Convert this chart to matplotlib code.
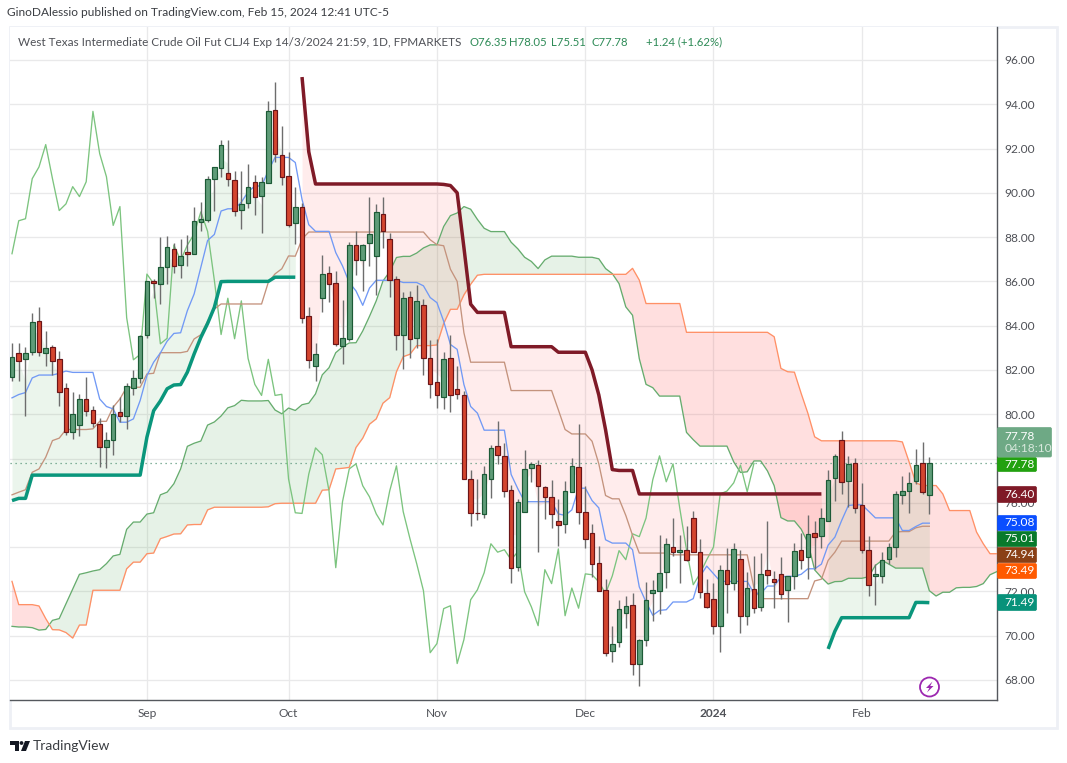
import numpy as np
import matplotlib
matplotlib.use("Agg")
import matplotlib.pyplot as plt
from matplotlib.patches import Rectangle, Circle, Polygon, FancyBboxPatch
from matplotlib.transforms import Affine2D

# ---- data (daily bars, index 0 = first visible bar) ----
opens = [81.67,82.77,82.48,82.8,84.2,82.75,83.04,82.5,81.19,79.2,79.5,80.7,80.2,79.56,78.5,78.84,80.1,79.9,81.2,81.62,
 83.58,86.04,85.9,86.66,87.47,86.75,87.33,87.25,88.7,88.78,90.64,91.12,90.91,90.6,89.24,89.55,90.5,89.87,90.46,93.72,
 91.73,90.77,88.62,89.38,84.42,82.19,85.27,86.37,85.92,83.09,83.41,87.64,86.95,87.72,87.13,89.05,87.91,86.1,83.6,85.28,
 83.46,84.92,82.53,81.44,80.76,82.53,81.12,80.85,77.08,75.55,75.5,77.07,78.57,78.12,76.59,73.1,75.6,77.58,77.7,76.72,
 76.27,75.19,75.05,76.5,77.62,75.6,74.65,73.3,72.07,69.32,69.73,71.0,71.4,68.74,69.82,71.94,72.03,72.89,74.0,73.78,
 73.88,75.33,73.79,71.94,71.67,70.45,72.98,72.38,73.47,70.9,72.1,71.3,72.98,72.57,72.8,72.07,72.7,73.88,73.56,74.65,
 74.5,75.2,77.13,78.84,76.99,77.8,75.9,73.87,72.7,72.7,73.47,74.0,76.35,76.53,77.0,77.8,76.35]
highs = [83.2,83.23,83.05,84.57,84.86,83.77,83.14,82.87,81.4,81.0,80.9,81.7,80.35,79.83,79.2,80.4,80.8,81.4,82.0,83.6,
 86.0,86.1,88.0,88.03,87.73,87.9,88.1,89.34,89.6,90.75,91.17,92.4,92.38,91.0,90.97,91.3,90.8,90.7,94.13,95.0,
 93.04,91.83,90.25,89.55,84.85,83.2,87.2,86.69,86.48,85.16,87.78,88.29,87.7,89.83,89.5,89.79,88.18,86.25,85.53,85.57,
 85.84,85.2,83.36,83.4,82.8,83.58,82.2,81.05,77.5,77.08,77.68,78.6,79.7,78.7,76.8,76.15,78.4,77.85,77.95,76.78,
 77.05,76.18,77.0,78.03,79.56,76.74,75.02,74.06,72.57,70.45,71.6,71.77,71.94,69.87,72.43,72.52,74.56,74.39,75.33,74.56,
 74.96,75.62,74.38,72.57,72.39,73.2,73.98,74.2,73.87,72.87,73.58,73.75,75.2,72.9,73.53,72.7,74.17,74.63,75.43,75.2,
 75.77,77.46,78.2,79.26,78.1,78.03,76.9,74.48,73.25,73.8,74.17,76.55,77.23,77.38,78.43,78.75,78.05]
lows = [81.5,81.49,79.9,82.66,82.62,82.2,81.75,80.35,79.04,78.9,79.0,79.94,79.44,77.6,77.56,78.14,79.64,79.34,80.86,81.4,
 83.44,85.25,85.0,85.9,86.37,86.14,86.7,87.25,88.27,88.7,89.18,90.7,90.3,88.95,88.38,89.3,89.0,88.18,90.46,91.4,
 90.35,88.47,87.7,84.14,82.1,81.5,84.63,85.09,83.08,82.28,83.3,86.3,85.57,86.7,85.39,87.53,85.3,82.9,82.05,82.55,
 83.0,81.76,80.74,80.29,80.24,80.1,80.67,77.08,74.93,75.23,75.32,76.2,77.76,76.28,72.38,72.92,75.6,76.92,73.77,75.26,
 74.87,74.03,74.63,76.5,75.05,73.95,72.65,72.03,69.07,68.83,69.5,70.33,68.2,67.73,69.53,70.65,70.99,72.17,73.6,72.4,
 73.37,73.79,71.7,71.24,70.09,69.26,71.0,72.05,70.12,70.5,71.0,71.12,72.35,71.24,71.67,70.62,72.12,72.99,72.57,72.99,
 73.94,75.17,76.06,76.4,75.83,75.53,73.73,71.77,71.37,72.36,73.25,73.55,75.95,75.55,76.85,76.4,75.51]
closes = [82.6,82.39,82.77,84.17,82.8,83.0,82.39,81.0,79.2,80.0,80.7,80.13,79.6,78.5,78.84,80.0,79.9,81.28,81.64,83.53,
 86.0,85.92,86.66,87.56,86.7,87.15,87.25,88.74,88.83,90.64,91.17,92.18,90.64,89.2,89.5,90.28,89.83,90.5,93.68,91.77,
 90.73,88.53,89.38,84.36,82.46,82.7,86.33,85.9,83.18,83.43,87.64,86.95,87.64,88.14,89.14,88.26,86.05,83.6,85.24,83.41,
 85.12,82.52,81.35,80.85,82.48,80.85,80.9,77.08,75.55,75.52,77.3,78.48,78.17,76.54,73.07,76.05,77.53,77.76,76.77,76.27,
 75.5,75.0,76.54,77.67,75.6,74.38,73.25,72.03,69.23,69.64,71.22,71.35,68.74,69.82,71.62,72.07,72.84,74.15,73.77,73.88,
 73.43,73.79,71.98,71.3,70.45,72.98,72.35,73.92,70.9,72.15,71.24,72.79,72.75,72.43,71.9,72.7,73.84,73.43,74.6,74.47,
 75.31,77.04,78.12,76.95,77.76,75.76,73.87,72.3,72.8,73.43,74.0,76.4,76.53,76.9,77.7,76.5,77.78]

conversion_line = [80.74,80.89,80.98,81.64,81.77,81.77,81.77,81.85,81.95,81.89,81.89,81.89,81.89,80.69,80.35,80.24,79.64,79.64,79.79,80.62,
 81.74,82.35,82.77,83.3,83.65,83.68,84.68,85.43,86.64,87.85,88.12,89.18,89.28,89.28,89.58,90.04,90.31,90.31,91.0,91.6,
 91.6,91.6,91.37,89.7,88.56,88.26,88.26,88.26,87.3,86.7,85.95,85.57,84.92,85.7,86.05,86.05,86.05,86.05,85.95,85.95,
 85.95,85.8,85.27,85.04,84.2,83.15,82.93,81.34,80.35,80.05,79.28,79.28,79.28,79.28,77.28,76.63,76.05,76.05,76.05,76.05,
 76.05,75.5,75.43,75.68,76.66,76.66,76.1,75.77,74.33,74.18,74.18,74.18,73.88,72.2,71.52,70.92,71.14,71.17,71.52,71.52,
 71.52,71.67,72.68,73.14,72.8,72.45,72.45,72.45,72.45,72.45,71.9,71.9,72.24,72.24,72.65,72.68,72.68,72.77,73.02,73.02,
 73.23,74.09,74.45,75.2,75.88,75.91,75.91,75.62,75.32,75.32,75.32,75.32,74.75,74.75,74.93,75.08,75.08]
base_line = [76.36,76.48,76.59,77.38,77.53,78.06,78.81,78.92,79.31,79.31,79.31,79.31,79.34,79.68,79.68,80.32,80.69,81.22,81.22,81.22,
 81.82,81.85,82.78,82.78,82.78,82.78,82.84,83.4,83.59,84.2,84.75,84.98,84.98,84.98,84.98,84.98,84.98,84.98,85.96,86.34,
 86.57,87.15,87.14,87.91,88.23,88.23,88.23,88.23,88.23,88.23,88.23,88.23,88.23,88.23,88.23,88.23,88.23,88.23,88.23,88.23,
 88.23,88.23,87.88,87.66,87.61,86.55,86.0,83.68,82.35,82.35,82.35,82.35,82.35,82.35,81.07,81.07,81.07,81.07,81.07,81.07,
 81.07,80.2,79.31,79.11,79.11,79.11,78.78,77.76,76.33,76.18,76.18,75.43,74.53,73.73,73.73,73.73,73.73,73.73,73.65,73.65,
 73.65,73.65,73.65,73.65,73.65,73.65,73.65,73.65,73.65,73.65,72.15,71.67,71.67,71.67,71.67,71.67,71.67,71.67,71.67,72.47,
 72.55,73.4,73.77,74.27,74.27,74.27,74.27,74.27,74.27,74.27,74.27,74.68,74.7,74.7,74.87,74.94,74.94]
lagging_span = [87.25,88.74,88.83,90.64,91.17,92.18,90.64,89.2,89.5,90.28,89.83,90.5,93.68,91.77,90.73,88.53,89.38,84.36,82.46,82.7,
 86.33,85.9,83.18,83.43,87.64,86.95,87.64,88.14,89.14,88.26,86.05,83.6,85.24,83.41,85.12,82.52,81.35,80.85,82.48,80.85,
 80.9,77.08,75.55,75.52,77.3,78.48,78.17,76.54,73.07,76.05,77.53,77.76,76.77,76.27,75.5,75.0,76.54,77.67,75.6,74.38,
 73.25,72.03,69.23,69.64,71.22,71.35,68.74,69.82,71.62,72.07,72.84,74.15,73.77,73.88,73.43,73.79,71.98,71.3,70.45,72.98,
 72.35,73.92,70.9,72.15,71.24,72.79,72.75,72.43,71.9,72.7,73.84,73.43,74.6,74.47,75.31,77.04,78.12,76.95,77.76,75.76,
 73.87,72.3,72.8,73.43,74.0,76.4,76.53,76.9,77.7,76.5,77.78]
leading_a = [70.42,70.39,70.39,70.36,70.25,70.28,70.69,70.77,71.44,72.12,72.77,72.84,72.92,72.98,73.25,73.6,73.67,74.8,75.13,75.13,
 75.49,75.55,76.36,76.48,76.86,77.53,78.55,78.69,78.79,79.51,79.65,79.92,80.29,80.39,80.63,80.6,80.6,80.6,80.62,80.19,
 80.02,80.28,80.17,80.43,80.5,80.92,81.78,82.1,82.78,83.04,83.22,83.23,83.76,84.42,85.12,86.02,86.44,87.08,87.13,87.13,
 87.28,87.51,87.65,87.65,88.48,88.97,89.09,89.38,89.26,88.8,88.4,88.25,88.25,88.25,87.77,87.47,87.09,86.9,86.58,86.97,
 87.14,87.14,87.14,87.14,87.09,87.09,87.09,87.02,86.58,86.35,85.9,84.85,84.47,82.51,81.35,81.2,80.82,80.82,80.82,80.82,
 79.18,78.85,78.56,78.56,78.56,78.56,78.56,77.85,77.37,77.4,77.89,77.89,77.44,76.77,75.33,75.18,75.18,74.81,74.2,72.97,
 72.63,72.33,72.44,72.45,72.59,72.59,72.59,72.66,73.17,73.4,73.23,73.05,73.05,73.05,73.05,73.05,72.03,71.79,71.96,71.96,
 72.16,72.18,72.18,72.22,72.35,72.75,72.89]
leading_b = [72.45,71.4,71.4,71.4,71.34,70.77,70.27,70.26,70.14,69.89,70.48,70.48,72.05,72.05,72.05,72.05,72.05,73.02,73.32,73.32,
 73.7,73.73,74.38,74.48,74.59,74.6,75.0,75.02,75.02,75.68,75.8,75.8,75.8,75.8,75.8,75.8,75.8,75.8,75.82,75.96,
 75.98,75.98,75.98,75.98,75.98,75.98,76.57,76.59,77.53,77.56,77.6,78.5,78.92,79.55,79.79,80.5,80.75,81.92,82.6,82.71,
 83.1,83.1,83.1,83.13,84.1,84.74,84.74,85.39,85.87,86.28,86.32,86.32,86.32,86.32,86.32,86.32,86.32,86.32,86.32,86.32,
 86.32,86.32,86.32,86.32,86.32,86.32,86.32,86.32,86.32,86.32,86.32,86.32,86.59,86.06,85.0,85.0,85.0,85.0,85.0,85.0,
 83.7,83.7,83.7,83.7,83.7,83.7,83.7,83.7,83.7,83.7,83.7,83.7,83.7,83.5,82.07,81.92,81.9,80.94,80.04,78.98,
 78.8,78.8,78.8,78.8,78.8,78.8,78.8,78.8,78.8,78.8,78.8,78.8,78.75,77.85,76.9,76.78,76.78,76.78,76.4,75.65,
 75.65,75.65,75.65,74.68,74.15,73.7,73.7]
stop_up_first = [76.1,76.2,76.2,77.25,77.25,77.25,77.25,77.25,77.25,77.25,77.25,77.25,77.25,77.25,77.25,77.25,77.25,77.25,77.25,77.25,
 78.96,80.16,80.6,81.15,81.32,81.34,81.9,82.72,83.47,84.1,84.83,85.99,86.0,86.0,86.0,86.0,86.0,86.0,86.0,86.19,86.19,86.19,86.19]
stop_down = [95.23,91.85,90.4,90.4,90.4,90.4,90.4,90.4,90.4,90.4,90.4,90.4,90.4,90.4,90.4,90.4,90.4,90.4,90.4,90.4,90.4,
 90.38,90.33,90.0,87.53,84.97,84.6,84.6,84.6,84.6,84.6,83.05,83.05,83.05,83.05,83.05,83.05,83.05,82.8,82.8,82.8,82.8,82.8,
 82.0,80.87,79.3,77.5,77.46,77.46,77.46,76.4,76.4,76.4,76.4,76.4,76.4,76.4,76.4,76.4,76.4,76.4,76.4,76.4,76.4,76.4,76.4,
 76.4,76.4,76.4,76.4,76.4,76.4,76.4,76.4,76.4,76.4,76.4,76.4]
stop_up_last = [69.4,70.2,70.81,70.81,70.81,70.81,70.81,70.81,70.81,70.81,70.81,70.81,70.81,71.5,71.5,71.49]
stop_up_first_start, stop_down_start, stop_up_last_start = 0, 43, 121

last_price = 77.78
month_bars = [20, 41, 63, 85, 104, 126]
month_labels = ["Sep", "Oct", "Nov", "Dec", "2024", "Feb"]
price_ticks = [68, 70, 72, 74, 76, 78, 80, 82, 84, 86, 88, 90, 92, 94, 96]
price_tick_labels = ["68.00", "70.00", "72.00", "", "76.00", "", "80.00", "82.00", "84.00", "86.00", "88.00", "90.00", "92.00", "94.00", "96.00"]

title_text = "West Texas Intermediate Crude Oil Fut CLJ4 Exp 14/3/2024 21:59, 1D, FPMARKETS"
ohlc_texts = ["O76.35", "H78.05", "L75.51", "C77.78", "+1.24 (+1.62%)"]
header_text = "GinoDAlessio published on TradingView.com, Feb 15, 2024 12:41 UTC-5"
tag_texts = ["77.78", "76.40", "75.08", "75.01", "74.94", "73.49", "71.49"]

# ---- layout / style ----
W, H = 1067, 763
plt.rcParams["font.family"] = ["Lato", "DejaVu Sans"]
GREEN_BODY, GREEN_EDGE = "#5f9c78", "#1c5a36"
RED_BODY, RED_EDGE = "#d4452f", "#6b1518"
TEXT = "#4f5157"
SCALE_FS = 8.6
fig = plt.figure(figsize=(W/100, H/100), dpi=100, facecolor="white")
L, R, T, B = 10, 997, 27, 700
ax = fig.add_axes([L/W, 1-B/H, (R-L)/W, (B-T)/H])
px = Affine2D().scale(1, -1).translate(0, H)   # top-left pixel coordinates

n_x = np.arange(len(closes))
ax.set_xlim((L-12)/6.745, (R-12)/6.745)
ax.set_ylim(96-(B-60)/22.14, 96-(T-60)/22.14)

ax.set_axisbelow(True)
ax.grid(True, color="#e9e9ea", lw=1.3*0.72)
ax.set_xticks(month_bars)
ax.set_xticklabels(month_labels, color=TEXT, fontsize=8.6)
ax.get_xticklabels()[4].set_fontweight("bold")
ax.yaxis.tick_right()
ax.set_yticks(price_ticks)
ax.set_yticklabels(price_tick_labels, color=TEXT, fontsize=SCALE_FS)
ax.tick_params(axis="both", length=0)
ax.tick_params(axis="y", pad=5)
ax.tick_params(axis="x", pad=6)
for s in ["top", "left"]:
    ax.spines[s].set_visible(False)
for s in ["right", "bottom"]:
    ax.spines[s].set_color("#55585d")
    ax.spines[s].set_linewidth(1.0)

# outer pane border
fig.add_artist(Rectangle((9.5, 26.5), 1047.5, 701, fill=False, ec="#eef0f5", lw=2.0, transform=px, zorder=0))

# cloud
a = np.array(leading_a); b = np.array(leading_b); xc = np.arange(len(a))
ax.fill_between(xc, a, b, where=a >= b, interpolate=True, color="#43a047", alpha=0.13, lw=0, zorder=1)
ax.fill_between(xc, a, b, where=a < b, interpolate=True, color="#ff5252", alpha=0.18, lw=0, zorder=1)

# stop fills against bar mid price
mid = (np.array(highs)+np.array(lows))/2
for vals, start, col, al in [(stop_up_first, stop_up_first_start, "#43a047", 0.10),
                             (stop_up_last, stop_up_last_start, "#43a047", 0.10),
                             (stop_down, stop_down_start, "#ff5252", 0.11)]:
    idx = np.arange(start, start+len(vals))
    ax.fill_between(idx, vals, mid[idx], color=col, alpha=al, lw=0, zorder=1)

ax.axhline(last_price, color="#5f9a7e", lw=0.9, ls=(0, (1, 3)), zorder=2)

# lines
lw = 0.95
ax.plot(xc, a, color="#66ac6e", lw=lw, zorder=3)
ax.plot(xc, b, color="#ff9066", lw=lw, zorder=3)
ax.plot(np.arange(len(lagging_span)), lagging_span, color="#7cc47f", lw=lw, zorder=3)
ax.plot(n_x, base_line, color="#c4937d", lw=lw, zorder=3)
ax.plot(n_x, conversion_line, color="#7199f5", lw=lw, zorder=3)

# candles
for i in n_x:
    o, h, l, c = opens[i], highs[i], lows[i], closes[i]
    up = c >= o
    ax.vlines(i, l, h, color="#6d6d6d", lw=1.0, zorder=4)
    ax.bar(i, abs(c-o), bottom=min(o, c), width=0.68, color=GREEN_BODY if up else RED_BODY,
           edgecolor=GREEN_EDGE if up else RED_EDGE, lw=0.85, zorder=5)

# stop lines
for vals, start, col in [(stop_up_first, stop_up_first_start, "#0a967c"),
                         (stop_up_last, stop_up_last_start, "#0a967c"),
                         (stop_down, stop_down_start, "#7f1a27")]:
    ax.plot(np.arange(start, start+len(vals)), vals, color=col, lw=2.5, zorder=6, solid_capstyle="butt")

# right-scale tags
tag_boxes = [(457, 15, 1037, "#22a10f"), (486, 17, 1037, "#7f1a27"), (515, 16, 1037, "#0a4eff"),
             (531, 16, 1037, "#087a2c"), (547, 16, 1037, "#8a4016"), (563, 16, 1037, "#ff5a00"),
             (594, 17, 1037, "#08927a")]
for (y, h, xr, col), txt in zip(tag_boxes, tag_texts):
    fig.add_artist(FancyBboxPatch((997.5, y+0.5), xr-998, h-1, boxstyle="round,pad=0,rounding_size=1.5",
                                  fc=col, ec=col, lw=0.5, transform=px, zorder=5))
    fig.text(1004.5/W, 1-(y+h/2)/H, txt, color="white", fontsize=SCALE_FS, va="center", ha="left", zorder=6)
fig.add_artist(FancyBboxPatch((997.5, 427.5), 54, 29.5, boxstyle="round,pad=0,rounding_size=1.5",
                              fc="#6ea985", ec="#6ea985", lw=0.5, transform=px, zorder=5))
fig.text(1004.5/W, 1-436/H, tag_texts[0], color="white", fontsize=SCALE_FS, va="center", ha="left", zorder=6)
fig.text(1004.5/W, 1-449/H, "04:18:10", color="#d7e8dc", fontsize=SCALE_FS, va="center", ha="left", zorder=6)

# header / legend
fig.text(7/W, 1-13/H, header_text, color="#3a3d42", fontsize=8.6, va="center", ha="left")
fig.text(18/W, 1-42/H, title_text, color=TEXT, fontsize=8.5, va="center", ha="left")
for x, t in zip([469, 509, 551, 592, 646], ohlc_texts):
    fig.text(x/W, 1-42/H, t, color="#2e8b57", fontsize=8.2, va="center", ha="left")

# publisher logo
logo = "#131722"
fig.add_artist(Polygon([(10, 741), (19, 741), (19, 751), (15, 751), (15, 745), (10, 745)], fc=logo, ec="none", transform=px))
fig.add_artist(Circle((21.5, 743), 1.9, fc=logo, ec="none", transform=px))
fig.add_artist(Polygon([(25, 741), (30, 741), (26, 751), (21, 751)], fc=logo, ec="none", transform=px))
fig.text(33/W, 1-745.5/H, "TradingView", color="#3a3d42", fontsize=10, va="center", ha="left")

# lightning icon
fig.add_artist(Circle((929.5, 687), 9.5, fc="white", ec="#9c27b0", lw=1.3, transform=px, zorder=7))
fig.add_artist(Polygon([(932.5, 681.5), (926, 688), (929.3, 688), (927, 692.5), (933.5, 686), (930.2, 686)],
                       fc="#9c27b0", ec="none", transform=px, zorder=8))

fig.savefig("out.png", dpi=100, facecolor="white")
